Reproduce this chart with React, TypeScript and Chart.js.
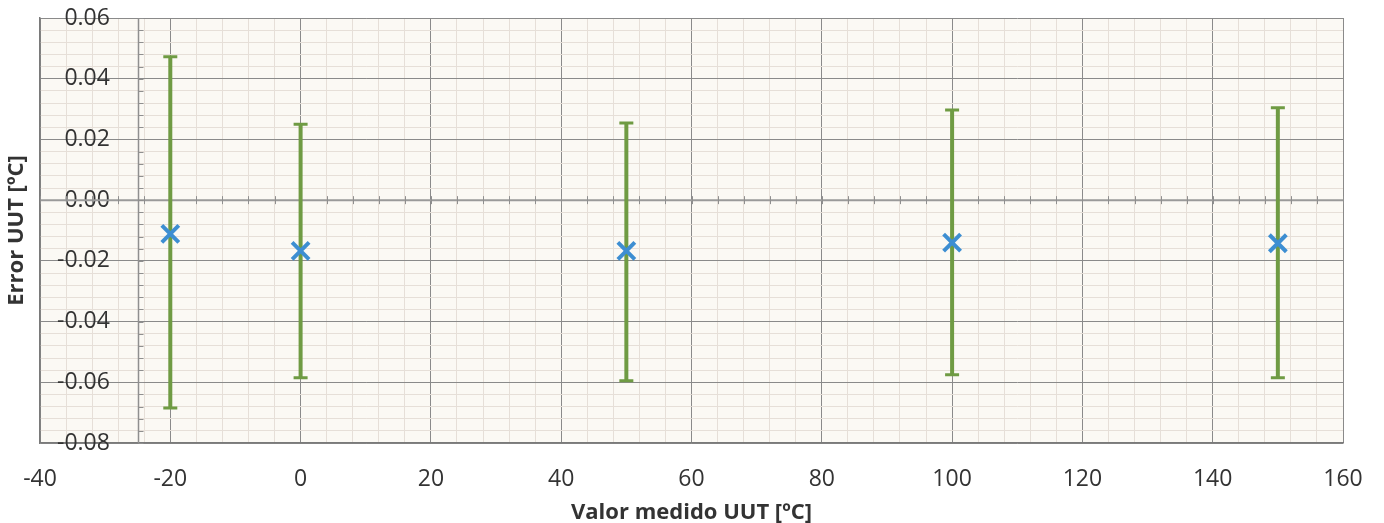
import React, { useEffect, useRef } from 'react';
import { Chart, registerables } from 'chart.js';

Chart.register(...registerables);

// Measured points (UUT reading vs error) with expanded-uncertainty limits
const xValues = [-20, 0, 50, 100, 150];
const errorValues = [-0.0111, -0.0167, -0.0167, -0.0140, -0.0142];
const upperValues = [0.0472, 0.0250, 0.0254, 0.0297, 0.0304];
const lowerValues = [-0.0685, -0.0585, -0.0595, -0.0575, -0.0585];

const xTickLabels = [-40, -20, 0, 20, 40, 60, 80, 100, 120, 140, 160];
const yTickLabels = [-0.08, -0.06, -0.04, -0.02, 0.0, 0.02, 0.04, 0.06];

const xTitle = 'Valor medido UUT [ºC]';
const yTitle = 'Error UUT [ºC]';

const X_MAJOR = 20;
const X_MINOR = 4;
const Y_MAJOR = 0.02;
const Y_MINOR = 0.004;
const Y_AXIS_CROSS = -25;

const isMultiple = (v: number, step: number) => Math.abs(v / step - Math.round(v / step)) < 1e-6;

const MAJOR_GRID = '#8a8a8a';
const MINOR_GRID = '#e6dfd8';
const TEXT = '#333333';
const FONT = "'Open Sans', 'Liberation Sans', sans-serif";

const bgPlugin = {
  id: 'plotBg',
  beforeDraw(chart: any) {
    const { ctx, chartArea } = chart;
    ctx.save();
    ctx.fillStyle = '#ffffff';
    ctx.fillRect(0, 0, chart.width, chart.height);
    ctx.fillStyle = '#fbf9f4';
    ctx.fillRect(chartArea.left, chartArea.top, chartArea.right - chartArea.left, chartArea.bottom - chartArea.top);
    ctx.restore();
  },
};

const crossAxesPlugin = {
  id: 'crossAxes',
  beforeDatasetsDraw(chart: any) {
    const { ctx, chartArea, scales } = chart;
    const xs = scales.x;
    const ys = scales.y;
    ctx.save();
    // horizontal axis at y = 0
    const y0 = ys.getPixelForValue(0);
    ctx.strokeStyle = '#9a9a9a';
    ctx.lineWidth = 2;
    ctx.beginPath();
    ctx.moveTo(chartArea.left, y0);
    ctx.lineTo(chartArea.right, y0);
    ctx.stroke();
    ctx.lineWidth = 1;
    ctx.strokeStyle = '#8f8f8f';
    for (let v = xs.min; v <= xs.max + 1e-9; v += X_MINOR) {
      const px = Math.round(xs.getPixelForValue(v)) + 0.5;
      ctx.beginPath();
      ctx.moveTo(px, y0 - 4);
      ctx.lineTo(px, y0 + 4);
      ctx.stroke();
    }
    // vertical axis crossing
    const xc = Math.round(xs.getPixelForValue(Y_AXIS_CROSS)) + 0.5;
    ctx.strokeStyle = '#8f8f8f';
    ctx.lineWidth = 1.5;
    ctx.beginPath();
    ctx.moveTo(xc, chartArea.top);
    ctx.lineTo(xc, chartArea.bottom);
    ctx.stroke();
    ctx.lineWidth = 1;
    const n = Math.round((ys.max - ys.min) / Y_MINOR);
    for (let i = 0; i <= n; i++) {
      const v = ys.min + i * Y_MINOR;
      const py = Math.round(ys.getPixelForValue(v)) + 0.5;
      ctx.beginPath();
      ctx.moveTo(xc, py);
      ctx.lineTo(xc + 5, py);
      ctx.stroke();
    }
    ctx.restore();
  },
};

const errorBarPlugin = {
  id: 'errorBars',
  beforeDatasetsDraw(chart: any) {
    const { ctx, scales } = chart;
    const xs = scales.x;
    const ys = scales.y;
    ctx.save();
    ctx.strokeStyle = '#6f9b43';
    ctx.lineCap = 'butt';
    xValues.forEach((xv, i) => {
      const px = xs.getPixelForValue(xv);
      const pTop = ys.getPixelForValue(upperValues[i]);
      const pBot = ys.getPixelForValue(lowerValues[i]);
      ctx.lineWidth = 4;
      ctx.beginPath();
      ctx.moveTo(px, pTop);
      ctx.lineTo(px, pBot);
      ctx.stroke();
      ctx.lineWidth = 3;
      ctx.beginPath();
      ctx.moveTo(px - 7, pTop);
      ctx.lineTo(px + 7, pTop);
      ctx.moveTo(px - 7, pBot);
      ctx.lineTo(px + 7, pBot);
      ctx.stroke();
    });
    ctx.restore();
  },
};

export default function App() {
  const canvasRef = useRef<HTMLCanvasElement | null>(null);

  useEffect(() => {
    document.body.style.margin = '0';
    const canvas = canvasRef.current;
    if (!canvas) return;
    const chart = new Chart(canvas, {
      type: 'scatter',
      data: {
        datasets: [
          {
            label: 'Error',
            data: xValues.map((x, i) => ({ x, y: errorValues[i] })),
            pointStyle: 'crossRot',
            pointRadius: 12,
            pointBorderWidth: 4,
            borderColor: '#3d8ed2',
            backgroundColor: '#3d8ed2',
            showLine: false,
          },
        ],
      },
      options: {
        responsive: false,
        animation: false,
        devicePixelRatio: 1,
        layout: { padding: { top: 18, right: 41, left: 0, bottom: 0 } },
        plugins: {
          legend: { display: false },
          tooltip: { enabled: false },
        },
        scales: {
          x: {
            type: 'linear',
            min: xTickLabels[0],
            max: xTickLabels[xTickLabels.length - 1],
            afterFit: (scale: any) => {
              scale.height = 80;
              scale.paddingLeft = 0;
              scale.paddingRight = 0;
            },
            ticks: {
              stepSize: X_MINOR,
              autoSkip: false,
              maxRotation: 0,
              padding: 23,
              color: TEXT,
              font: { family: FONT, size: 23 },
              callback: (v: any) => {
                const n = Number(v);
                const lbl = xTickLabels.find((t) => Math.abs(t - n) < 1e-6);
                return lbl === undefined ? '' : String(lbl);
              },
            },
            grid: {
              drawTicks: false,
              color: (c: any) => (isMultiple(c.tick.value, X_MAJOR) ? MAJOR_GRID : MINOR_GRID),
              lineWidth: 1,
            },
            border: { display: true, color: '#7a7a7a', width: 1.5 },
            title: {
              display: true,
              text: xTitle,
              color: TEXT,
              font: { family: FONT, size: 22, weight: 'bold' },
              padding: { top: 0, bottom: -3 },
            },
          },
          y: {
            type: 'linear',
            min: yTickLabels[0],
            max: yTickLabels[yTickLabels.length - 1],
            afterFit: (scale: any) => {
              scale.width = 40;
              scale.paddingTop = 0;
              scale.paddingBottom = 0;
            },
            ticks: {
              stepSize: Y_MINOR,
              autoSkip: false,
              mirror: true,
              crossAlign: 'far',
              padding: 17,
              color: TEXT,
              font: { family: FONT, size: 23 },
              callback: (v: any) => {
                const n = Number(v);
                const lbl = yTickLabels.find((t) => Math.abs(t - n) < 1e-6);
                return lbl === undefined ? '' : lbl.toFixed(2);
              },
            },
            grid: {
              drawTicks: false,
              color: (c: any) => (isMultiple(c.tick.value, Y_MAJOR) ? MAJOR_GRID : MINOR_GRID),
              lineWidth: 1,
            },
            border: { display: true, color: '#7a7a7a', width: 1.5 },
            title: {
              display: true,
              text: yTitle,
              color: TEXT,
              font: { family: FONT, size: 22, weight: 'bold' },
              padding: { top: 4, bottom: 0 },
            },
          },
        },
      },
      plugins: [bgPlugin, crossAxesPlugin, errorBarPlugin],
    } as any);
    return () => chart.destroy();
  }, []);

  return (
    <div style={{ width: 1384, height: 523 }}>
      <canvas ref={canvasRef} width={1384} height={523} style={{ display: 'block' }} />
    </div>
  );
}
